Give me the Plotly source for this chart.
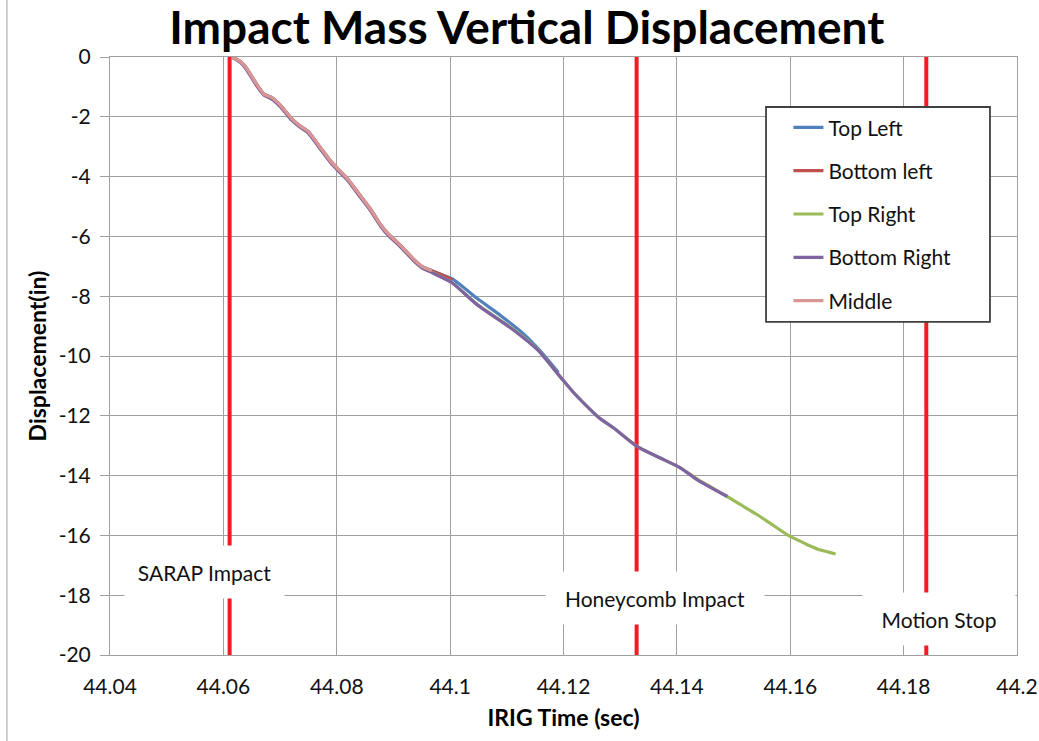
import plotly.graph_objects as go

# ---------------- data ----------------
series_names = ["Top Left", "Bottom left", "Top Right", "Bottom Right", "Middle"]
series_colors = ["#4F81BD", "#C0504D", "#9BBB59", "#8064A2", "#D99694"]

time_top_left = [44.0615, 44.0630, 44.0640, 44.0660, 44.0672, 44.0685, 44.0700, 44.0720, 44.0735,
                 44.0750, 44.0770, 44.0790, 44.0805, 44.0820, 44.0840, 44.0860, 44.0877, 44.0890,
                 44.0907, 44.0925, 44.0935, 44.0950, 44.0968, 44.0985, 44.1004, 44.1048, 44.1090,
                 44.1129, 44.1160, 44.1191]
disp_top_left = [0.0, -0.15, -0.35, -0.95, -1.25, -1.35, -1.60, -2.05, -2.30,
                 -2.50, -3.00, -3.50, -3.80, -4.10, -4.60, -5.10, -5.60, -5.90,
                 -6.20, -6.55, -6.75, -7.00, -7.15, -7.28, -7.42, -8.08, -8.66,
                 -9.25, -9.85, -10.55]

time_bottom_left = [44.0615, 44.0630, 44.0640, 44.0660, 44.0672, 44.0685, 44.0700, 44.0720, 44.0735,
                    44.0750, 44.0770, 44.0790, 44.0805, 44.0820, 44.0840, 44.0860, 44.0877, 44.0890,
                    44.0907, 44.0925, 44.0935, 44.0950, 44.0968, 44.0985, 44.1004]
disp_bottom_left = [0.0, -0.15, -0.36, -0.96, -1.25, -1.36, -1.61, -2.05, -2.31,
                    -2.51, -3.01, -3.50, -3.81, -4.11, -4.60, -5.11, -5.60, -5.91,
                    -6.21, -6.56, -6.76, -7.01, -7.15, -7.28, -7.45]

time_top_right = [44.0615, 44.0630, 44.0640, 44.0660, 44.0672, 44.0685, 44.0700, 44.0720, 44.0735,
                  44.0750, 44.0770, 44.0790, 44.0805, 44.0820, 44.0840, 44.0860, 44.0877, 44.0890,
                  44.0907, 44.0925, 44.0935, 44.0950, 44.0968, 44.0985, 44.1004, 44.1048, 44.1111,
                  44.1154, 44.1191, 44.1218, 44.1262, 44.1288, 44.1330, 44.1366, 44.1406, 44.1436,
                  44.1489, 44.1515, 44.1542, 44.1565, 44.1595, 44.1615, 44.1630, 44.1655, 44.1680]
disp_top_right = [0.0, -0.17, -0.38, -0.98, -1.27, -1.38, -1.63, -2.08, -2.33,
                  -2.53, -3.03, -3.53, -3.83, -4.13, -4.63, -5.13, -5.63, -5.93,
                  -6.23, -6.58, -6.78, -7.03, -7.20, -7.36, -7.56, -8.28, -9.10,
                  -9.78, -10.62, -11.22, -12.05, -12.40, -13.02, -13.37, -13.74, -14.12,
                  -14.70, -15.00, -15.31, -15.60, -15.98, -16.17, -16.31, -16.50, -16.62]

time_bottom_right = [44.0615, 44.0630, 44.0640, 44.0660, 44.0672, 44.0685, 44.0700, 44.0720, 44.0735,
                     44.0750, 44.0770, 44.0790, 44.0805, 44.0820, 44.0840, 44.0860, 44.0877, 44.0890,
                     44.0907, 44.0925, 44.0935, 44.0950, 44.0968, 44.0985, 44.1004, 44.1048, 44.1111,
                     44.1154, 44.1194, 44.1218, 44.1262, 44.1288, 44.1330, 44.1366, 44.1406, 44.1436,
                     44.1489]
disp_bottom_right = [0.0, -0.18, -0.40, -1.00, -1.28, -1.40, -1.65, -2.10, -2.34,
                     -2.55, -3.05, -3.55, -3.85, -4.15, -4.65, -5.15, -5.65, -5.95,
                     -6.25, -6.60, -6.80, -7.05, -7.21, -7.37, -7.56, -8.29, -9.12,
                     -9.79, -10.69, -11.23, -12.06, -12.40, -13.03, -13.37, -13.74, -14.14,
                     -14.70]

time_middle = [44.0615, 44.0630, 44.0640, 44.0660, 44.0672, 44.0685, 44.0700, 44.0720, 44.0735,
               44.0750, 44.0770, 44.0790, 44.0805, 44.0820, 44.0840, 44.0860, 44.0877, 44.0890,
               44.0907, 44.0925, 44.0935, 44.0950, 44.0968]
disp_middle = [0.0, -0.15, -0.35, -0.95, -1.25, -1.35, -1.60, -2.05, -2.30,
               -2.50, -3.00, -3.50, -3.80, -4.10, -4.60, -5.10, -5.60, -5.90,
               -6.20, -6.55, -6.75, -7.00, -7.15]

series_times = [time_top_left, time_bottom_left, time_top_right, time_bottom_right, time_middle]
series_disps = [disp_top_left, disp_bottom_left, disp_top_right, disp_bottom_right, disp_middle]

event_names = ["SARAP Impact", "Honeycomb Impact", "Motion Stop"]
event_times = [44.0611, 44.1329, 44.1840]
event_label_x = [44.0567, 44.1362, 44.1862]
event_label_y = [-17.22, -18.08, -18.80]
event_label_w = [157, 216, 150]

x_tick_vals = [44.04, 44.06, 44.08, 44.10, 44.12, 44.14, 44.16, 44.18, 44.20]
x_tick_text = ["44.04", "44.06", "44.08", "44.1", "44.12", "44.14", "44.16", "44.18", "44.2"]
y_tick_vals = [0, -2, -4, -6, -8, -10, -12, -14, -16, -18, -20]
y_tick_text = ["0", "-2", "-4", "-6", "-8", "-10", "-12", "-14", "-16", "-18", "-20"]

# ---------------- figure ----------------
FONT = "Lato"
GRID = "#A0A0A0"
fig = go.Figure()

for t in event_times:
    fig.add_trace(go.Scatter(x=[t, t], y=[0, -20], mode="lines",
                             line=dict(color="#EE1D23", width=4),
                             showlegend=False, hoverinfo="skip"))

for name, color, tx, dy in zip(series_names, series_colors, series_times, series_disps):
    fig.add_trace(go.Scatter(x=tx, y=dy, mode="lines", name=name, legendgroup=name,
                             line=dict(color=color, width=3.2, shape="spline", smoothing=0.6)))

for name, lx, ly, w in zip(event_names, event_label_x, event_label_y, event_label_w):
    fig.add_annotation(x=lx, y=ly, xref="x", yref="y", text=name, showarrow=False,
                       bgcolor="white", width=w, height=50,
                       font=dict(family=FONT, size=21, color="#111111"))

# legend frame
fig.add_shape(type="rect", xref="paper", yref="paper", x0=0.7233, x1=0.9702, y0=0.5569, y1=0.9164,
              fillcolor="white", line=dict(color="#404040", width=1.8), layer="above")
# outer chart border (left edge)
fig.add_shape(type="line", xref="paper", yref="paper", x0=-0.1136, x1=-0.1136, y0=-0.2, y1=1.2,
              line=dict(color="#A0A0A0", width=1), layer="above")

fig.update_layout(
    width=1039, height=741,
    margin=dict(l=110, r=22, t=57, b=86),
    paper_bgcolor="white", plot_bgcolor="white",
    font=dict(family=FONT, size=21, color="#111111"),
    title=dict(text="<b>Impact Mass Vertical Displacement</b>", x=0.507, xref="container",
               xanchor="center", y=0.962, yref="container", yanchor="middle",
               font=dict(family=FONT, size=46, color="#000000"), automargin=False),
    legend=dict(x=0.748, y=0.916, xanchor="left", yanchor="top", bgcolor="rgba(0,0,0,0)",
                borderwidth=0, font=dict(family=FONT, size=21, color="#111111"),
                tracegroupgap=13, itemwidth=30),
    showlegend=True,
)
fig.update_xaxes(range=[44.04, 44.2], tickvals=x_tick_vals, ticktext=x_tick_text, automargin=False,
                 showgrid=True, gridcolor=GRID, gridwidth=1, zeroline=False,
                 showline=True, linecolor=GRID, linewidth=1, mirror=True,
                 ticks="", ticklabelstandoff=13,
                 tickfont=dict(family=FONT, size=21, color="#111111"),
                 title=dict(text="<b>IRIG Time (sec)</b>", standoff=12,
                            font=dict(family=FONT, size=23, color="#000000")))
fig.update_yaxes(range=[-20, 0], tickvals=y_tick_vals, ticktext=y_tick_text, automargin=False,
                 showgrid=True, gridcolor=GRID, gridwidth=1, zeroline=False,
                 showline=True, linecolor=GRID, linewidth=1, mirror=True,
                 ticks="outside", ticklen=9, tickcolor=GRID, ticklabelstandoff=5,
                 tickfont=dict(family=FONT, size=21, color="#111111"),
                 title=dict(text="<b>Displacement(in)</b>", standoff=5,
                            font=dict(family=FONT, size=23, color="#000000")))

fig.write_html("out.html", config={"displayModeBar": False},
               post_script="document.body.style.margin='0';")
